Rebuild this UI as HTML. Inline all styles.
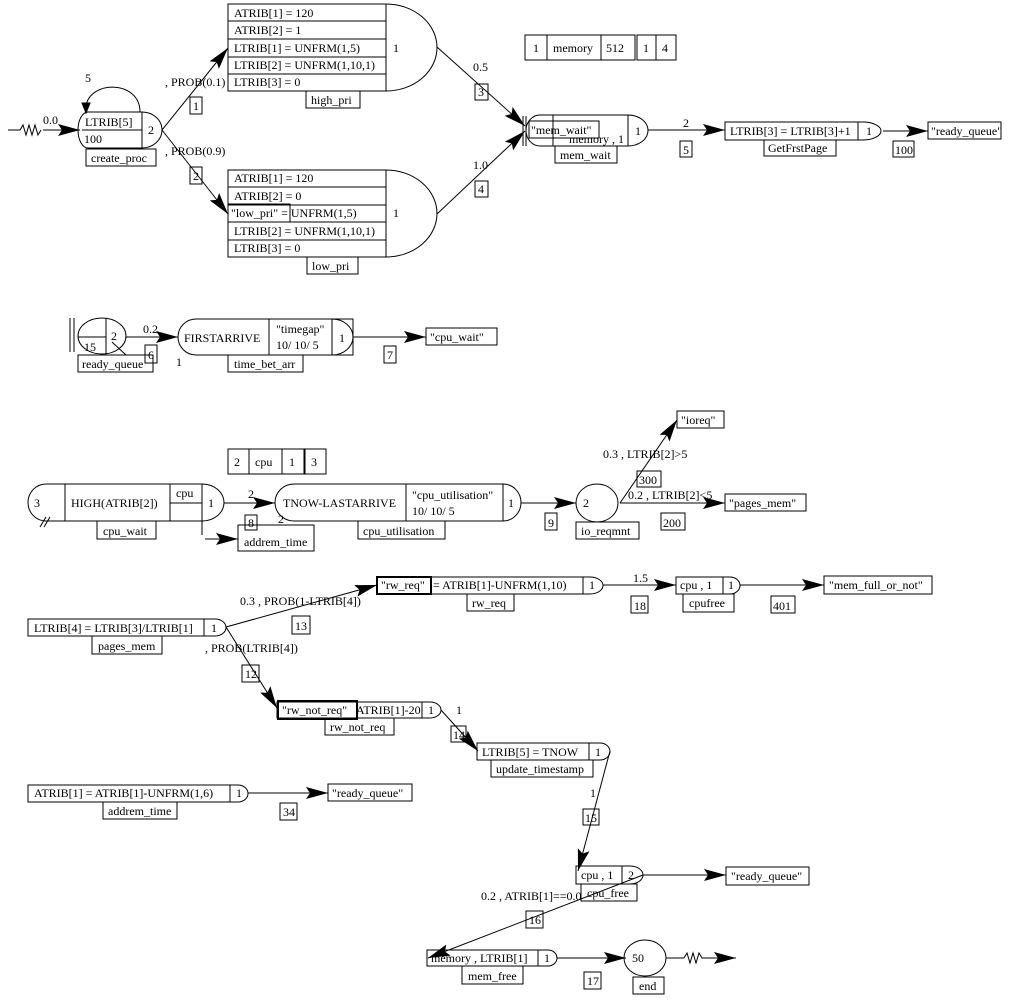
<!DOCTYPE html>
<html><head><meta charset="utf-8"><style>
html,body{margin:0;padding:0;background:#fff;}
svg{display:block;}
text{font-family:"Liberation Serif",serif;font-size:12px;fill:#000;}
</style></head><body>
<svg width="1013" height="1000" viewBox="0 0 1013 1000" xmlns="http://www.w3.org/2000/svg">
<defs>
<marker id="a" markerWidth="24" markerHeight="14" refX="22" refY="7" orient="auto" markerUnits="userSpaceOnUse">
<path d="M0,1 L22,7 L0,13 L4,7 Z" fill="#000"/>
</marker>
</defs>
<g fill="none" stroke="#000" stroke-width="1">
<path d="M8,130 H20 l3,-5 l3,10 l3,-10 l3,10 l3,-10 l3,10 l3,-5" />
<line x1="43" y1="130" x2="80" y2="130" marker-end="url(#a)"/>
<path d="M142,112 H88 A10,18 0 0 0 88,148 H142 Z"/>
<line x1="82" y1="130" x2="142" y2="130"/>
<path d="M142,112 A20,18 0 0 1 142,148"/>
<path d="M140,112 C140,80 90,80 86,106" />
<path d="M82,103 L86,113 L90,103 Z" fill="#000"/>
<rect x="86" y="149" width="70" height="17"/>
<rect x="228" y="4" width="158" height="87"/>
<line x1="228" y1="21" x2="386" y2="21"/><line x1="228" y1="39" x2="386" y2="39"/>
<line x1="228" y1="57" x2="386" y2="57"/><line x1="228" y1="74" x2="386" y2="74"/>
<path d="M386,4 A51,43.5 0 0 1 386,91"/>
<rect x="306" y="91" width="54" height="17"/>
<rect x="228" y="170" width="158" height="87"/>
<line x1="228" y1="187" x2="386" y2="187"/><line x1="228" y1="205" x2="386" y2="205"/>
<line x1="228" y1="222" x2="386" y2="222"/><line x1="228" y1="240" x2="386" y2="240"/>
<rect x="228" y="204" width="62" height="18"/>
<path d="M386,170 A51,43.5 0 0 1 386,257"/>
<rect x="307" y="257" width="51" height="17"/>
<line x1="162" y1="130" x2="228" y2="48" marker-end="url(#a)"/>
<line x1="162" y1="130" x2="228" y2="214" marker-end="url(#a)"/>
<rect x="190" y="97" width="12" height="17"/>
<rect x="190" y="167" width="12" height="17"/>
<line x1="437" y1="47" x2="525" y2="126" marker-end="url(#a)"/>
<line x1="437" y1="214" x2="525" y2="131" marker-end="url(#a)"/>
<rect x="475" y="84" width="13" height="16"/>
<rect x="475" y="181" width="13" height="16"/>
<rect x="525" y="35" width="110" height="25"/>
<line x1="547" y1="35" x2="547" y2="60"/><line x1="601" y1="35" x2="601" y2="60"/>
<rect x="637" y="35" width="39" height="25"/><line x1="656" y1="35" x2="656" y2="60"/>
<line x1="523" y1="116" x2="523" y2="146"/><line x1="526" y1="116" x2="526" y2="146"/>
<path d="M628,115 H540 A14,15.5 0 0 0 540,146 H628 Z"/>
<path d="M628,115 A20,15.5 0 0 1 628,146"/>
<line x1="553" y1="115" x2="553" y2="146"/>
<rect x="529" y="121" width="70" height="17"/>
<rect x="555" y="146" width="62" height="17"/>
<line x1="648" y1="130" x2="725" y2="130" marker-end="url(#a)"/>
<rect x="680" y="141" width="12" height="16"/>
<path d="M725,122 H863 A18,9 0 0 1 863,140 H725 Z"/>
<line x1="858" y1="122" x2="858" y2="140"/>
<rect x="764" y="140" width="72" height="16"/>
<line x1="883" y1="131" x2="928" y2="131" marker-end="url(#a)"/>
<rect x="928" y="122" width="73" height="17"/>
<rect x="893" y="141" width="21" height="16"/>
<line x1="70" y1="318" x2="70" y2="352"/><line x1="74" y1="318" x2="74" y2="352"/>
<ellipse cx="102" cy="336" rx="24" ry="18"/>
<line x1="106" y1="318" x2="106" y2="355"/><line x1="78" y1="337" x2="106" y2="337"/>
<line x1="112" y1="342" x2="126" y2="355"/>
<rect x="78" y="355" width="75" height="17"/>
<rect x="145" y="345" width="12" height="18"/>
<line x1="126" y1="337" x2="178" y2="337" marker-end="url(#a)"/>
<path d="M353,319 H196 A18,18 0 0 0 196,355 H353 Z"/>
<line x1="269" y1="319" x2="269" y2="355"/><line x1="332" y1="319" x2="332" y2="355"/>
<path d="M332,319 A21,18 0 0 1 332,355"/>
<rect x="228" y="355" width="75" height="17"/>
<line x1="353" y1="337" x2="426" y2="337" marker-end="url(#a)"/>
<rect x="426" y="328" width="71" height="17"/>
<rect x="384" y="346" width="12" height="17"/>
<rect x="228" y="449" width="76" height="25"/>
<line x1="249" y1="449" x2="249" y2="474"/><line x1="282" y1="449" x2="282" y2="474"/>
<rect x="305" y="449" width="21" height="25"/>
<path d="M65,484 H46 A18,18.5 0 0 0 46,521 H65 Z"/>
<rect x="65" y="484" width="137" height="37"/>
<line x1="170" y1="484" x2="170" y2="521"/><line x1="170" y1="503" x2="202" y2="503"/>
<path d="M202,484 A22,18.5 0 0 1 202,521"/>
<line x1="40" y1="527" x2="46" y2="517"/><line x1="44" y1="527" x2="50" y2="517"/>
<rect x="97" y="521" width="59" height="18"/>
<line x1="202" y1="521" x2="202" y2="535"/>
<line x1="205" y1="539" x2="238" y2="539" marker-end="url(#a)"/>
<rect x="238" y="525" width="76" height="26"/>
<rect x="245" y="515" width="12" height="15"/>
<line x1="224" y1="503" x2="275" y2="503" marker-end="url(#a)"/>
<path d="M503,484 H294 A19,18.5 0 0 0 294,521 H503 Z"/>
<line x1="406" y1="484" x2="406" y2="521"/>
<path d="M503,484 A18,18.5 0 0 1 503,521"/>
<rect x="358" y="521" width="87" height="18"/>
<line x1="521" y1="503" x2="576" y2="503" marker-end="url(#a)"/>
<rect x="545" y="513" width="12" height="17"/>
<ellipse cx="597" cy="503" rx="21" ry="19"/>
<rect x="576" y="522" width="63" height="17"/>
<line x1="620" y1="503" x2="677" y2="420" marker-end="url(#a)"/>
<rect x="677" y="411" width="47" height="17"/>
<rect x="637" y="471" width="24" height="16"/>
<line x1="620" y1="503" x2="725" y2="503" marker-end="url(#a)"/>
<rect x="725" y="494" width="81" height="17"/>
<rect x="661" y="513" width="24" height="17"/>
<path d="M377,577 H590 A13,8.5 0 0 1 590,594 H377 Z"/>
<line x1="583" y1="577" x2="583" y2="594"/>
<rect x="377" y="577" width="54" height="17" stroke-width="2"/>
<rect x="467" y="594" width="47" height="17"/>
<line x1="603" y1="585" x2="676" y2="585" marker-end="url(#a)"/>
<rect x="631" y="596" width="17" height="17"/>
<path d="M676,577 H730 A10,8.5 0 0 1 730,594 H676 Z"/>
<line x1="723" y1="577" x2="723" y2="594"/>
<rect x="683" y="594" width="51" height="18"/>
<line x1="740" y1="585" x2="824" y2="585" marker-end="url(#a)"/>
<rect x="824" y="576" width="108" height="18"/>
<rect x="771" y="596" width="24" height="17"/>
<path d="M28,619 H215 A11,8.5 0 0 1 215,636 H28 Z"/>
<line x1="204" y1="619" x2="204" y2="636"/>
<rect x="92" y="636" width="70" height="18"/>
<line x1="226" y1="627" x2="377" y2="585" marker-end="url(#a)"/>
<rect x="292" y="616" width="18" height="18"/>
<line x1="226" y1="627" x2="277" y2="708" marker-end="url(#a)"/>
<rect x="242" y="665" width="17" height="17"/>
<path d="M277,702 H430 A11,8 0 0 1 430,718 H277 Z"/>
<line x1="422" y1="702" x2="422" y2="718"/>
<rect x="278" y="701" width="79" height="18" stroke-width="2"/>
<rect x="325" y="718" width="69" height="17"/>
<line x1="441" y1="710" x2="478" y2="751" marker-end="url(#a)"/>
<rect x="451" y="726" width="15" height="16"/>
<path d="M477,743 H600 A10,8.5 0 0 1 600,760 H477 Z"/>
<line x1="589" y1="743" x2="589" y2="760"/>
<rect x="491" y="760" width="102" height="17"/>
<line x1="610" y1="751" x2="578" y2="871" marker-end="url(#a)"/>
<rect x="583" y="809" width="16" height="16"/>
<path d="M576,866 H630 A13,9 0 0 1 630,884 H576 Z"/>
<line x1="622" y1="866" x2="622" y2="884"/>
<rect x="581" y="884" width="56" height="17"/>
<line x1="643" y1="875" x2="726" y2="875" marker-end="url(#a)"/>
<rect x="726" y="867" width="83" height="18"/>
<line x1="643" y1="875" x2="428" y2="958" marker-end="url(#a)"/>
<rect x="526" y="911" width="17" height="17"/>
<path d="M427,950 H548 A9,8 0 0 1 548,966 H427 Z"/>
<line x1="538" y1="950" x2="538" y2="966"/>
<rect x="462" y="966" width="61" height="18"/>
<line x1="557" y1="958" x2="626" y2="958" marker-end="url(#a)"/>
<rect x="584" y="972" width="17" height="17"/>
<ellipse cx="645" cy="958" rx="21" ry="18"/>
<rect x="633" y="977" width="31" height="17"/>
<path d="M666,958 H684 l3,-5 l3,10 l3,-10 l3,10 l3,-10 l3,5 H712"/>
<line x1="712" y1="958" x2="736" y2="958" marker-end="url(#a)"/>
<path d="M28,785 H238 A10,8.5 0 0 1 238,802 H28 Z"/>
<line x1="230" y1="785" x2="230" y2="802"/>
<rect x="103" y="802" width="74" height="17"/>
<line x1="248" y1="793" x2="328" y2="793" marker-end="url(#a)"/>
<rect x="328" y="784" width="84" height="17"/>
<rect x="280" y="803" width="17" height="17"/>
</g>
<g>
<text x="43" y="124">0.0</text>
<text x="85" y="82">5</text>
<text x="85" y="126">LTRIB[5]</text>
<text x="84" y="143">100</text>
<text x="148" y="134">2</text>
<text x="91" y="162">create_proc</text>
<text x="234" y="17">ATRIB[1] = 120</text>
<text x="234" y="34">ATRIB[2] = 1</text>
<text x="234" y="52">LTRIB[1] = UNFRM(1,5)</text>
<text x="234" y="69">LTRIB[2] = UNFRM(1,10,1)</text>
<text x="234" y="86">LTRIB[3] = 0</text>
<text x="393" y="52">1</text>
<text x="311" y="104">high_pri</text>
<text x="234" y="182">ATRIB[1] = 120</text>
<text x="234" y="200">ATRIB[2] = 0</text>
<text x="231" y="217">"low_pri" = UNFRM(1,5)</text>
<text x="234" y="235">LTRIB[2] = UNFRM(1,10,1)</text>
<text x="234" y="252">LTRIB[3] = 0</text>
<text x="393" y="217">1</text>
<text x="312" y="270">low_pri</text>
<text x="165" y="86">, PROB(0.1)</text>
<text x="165" y="155">, PROB(0.9)</text>
<text x="193" y="110">1</text>
<text x="193" y="180">2</text>
<text x="473" y="71">0.5</text>
<text x="473" y="169">1.0</text>
<text x="478" y="96">3</text>
<text x="478" y="193">4</text>
<text x="533" y="52">1</text>
<text x="553" y="52">memory</text>
<text x="606" y="52">512</text>
<text x="643" y="52">1</text>
<text x="662" y="52">4</text>
<text x="531" y="134">"mem_wait"</text>
<text x="569" y="143">memory , 1</text>
<text x="635" y="135">1</text>
<text x="560" y="159">mem_wait</text>
<text x="683" y="127">2</text>
<text x="683" y="154">5</text>
<text x="730" y="135">LTRIB[3] = LTRIB[3]+1</text>
<text x="866" y="135">1</text>
<text x="768" y="152">GetFrstPage</text>
<text x="931" y="135">"ready_queue"</text>
<text x="895" y="154">100</text>
<text x="111" y="340">2</text>
<text x="84" y="351">15</text>
<text x="82" y="368">ready_queue</text>
<text x="148" y="359">6</text>
<text x="143" y="333">0.2</text>
<text x="176" y="366">1</text>
<text x="184" y="342">FIRSTARRIVE</text>
<text x="276" y="333">"timegap"</text>
<text x="276" y="349">10/ 10/ 5</text>
<text x="339" y="342">1</text>
<text x="234" y="368">time_bet_arr</text>
<text x="430" y="341">"cpu_wait"</text>
<text x="387" y="359">7</text>
<text x="234" y="466">2</text>
<text x="255" y="466">cpu</text>
<text x="289" y="466">1</text>
<text x="311" y="466">3</text>
<text x="34" y="507">3</text>
<text x="71" y="507">HIGH(ATRIB[2])</text>
<text x="176" y="497">cpu</text>
<text x="208" y="507">1</text>
<text x="103" y="535">cpu_wait</text>
<text x="248" y="498">2</text>
<text x="248" y="527">8</text>
<text x="278" y="523">2</text>
<text x="244" y="546">addrem_time</text>
<text x="283" y="507">TNOW-LASTARRIVE</text>
<text x="412" y="499">"cpu_utilisation"</text>
<text x="412" y="515">10/ 10/ 5</text>
<text x="508" y="507">1</text>
<text x="363" y="535">cpu_utilisation</text>
<text x="548" y="527">9</text>
<text x="583" y="507">2</text>
<text x="581" y="535">io_reqmnt</text>
<text x="681" y="424">"ioreq"</text>
<text x="603" y="458">0.3 , LTRIB[2]&gt;5</text>
<text x="639" y="484">300</text>
<text x="628" y="499">0.2 , LTRIB[2]&lt;5</text>
<text x="663" y="527">200</text>
<text x="729" y="507">"pages_mem"</text>
<text x="381" y="589">"rw_req"</text>
<text x="433" y="589">= ATRIB[1]-UNFRM(1,10)</text>
<text x="589" y="589">1</text>
<text x="472" y="607">rw_req</text>
<text x="633" y="582">1.5</text>
<text x="634" y="610">18</text>
<text x="680" y="589">cpu , 1</text>
<text x="728" y="589">1</text>
<text x="689" y="607">cpufree</text>
<text x="829" y="589">"mem_full_or_not"</text>
<text x="773" y="610">401</text>
<text x="34" y="632">LTRIB[4] = LTRIB[3]/LTRIB[1]</text>
<text x="211" y="632">1</text>
<text x="98" y="650">pages_mem</text>
<text x="240" y="605">0.3 , PROB(1-LTRIB[4])</text>
<text x="295" y="630">13</text>
<text x="205" y="652">, PROB(LTRIB[4])</text>
<text x="245" y="678">12</text>
<text x="282" y="714">"rw_not_req"</text>
<text x="356" y="714">ATRIB[1]-20</text>
<text x="428" y="714">1</text>
<text x="330" y="731">rw_not_req</text>
<text x="456" y="714">1</text>
<text x="453" y="739">14</text>
<text x="482" y="756">LTRIB[5] = TNOW</text>
<text x="595" y="756">1</text>
<text x="496" y="773">update_timestamp</text>
<text x="590" y="797">1</text>
<text x="585" y="822">15</text>
<text x="581" y="879">cpu , 1</text>
<text x="628" y="879">2</text>
<text x="587" y="897">cpu_free</text>
<text x="481" y="900">0.2 , ATRIB[1]==0.0</text>
<text x="529" y="924">16</text>
<text x="731" y="880">"ready_queue"</text>
<text x="431" y="962">memory , LTRIB[1]</text>
<text x="544" y="962">1</text>
<text x="468" y="980">mem_free</text>
<text x="587" y="985">17</text>
<text x="632" y="962">50</text>
<text x="639" y="990">end</text>
<text x="34" y="797">ATRIB[1] = ATRIB[1]-UNFRM(1,6)</text>
<text x="236" y="797">1</text>
<text x="108" y="815">addrem_time</text>
<text x="332" y="797">"ready_queue"</text>
<text x="283" y="816">34</text>
</g>
</svg>
</body></html>
